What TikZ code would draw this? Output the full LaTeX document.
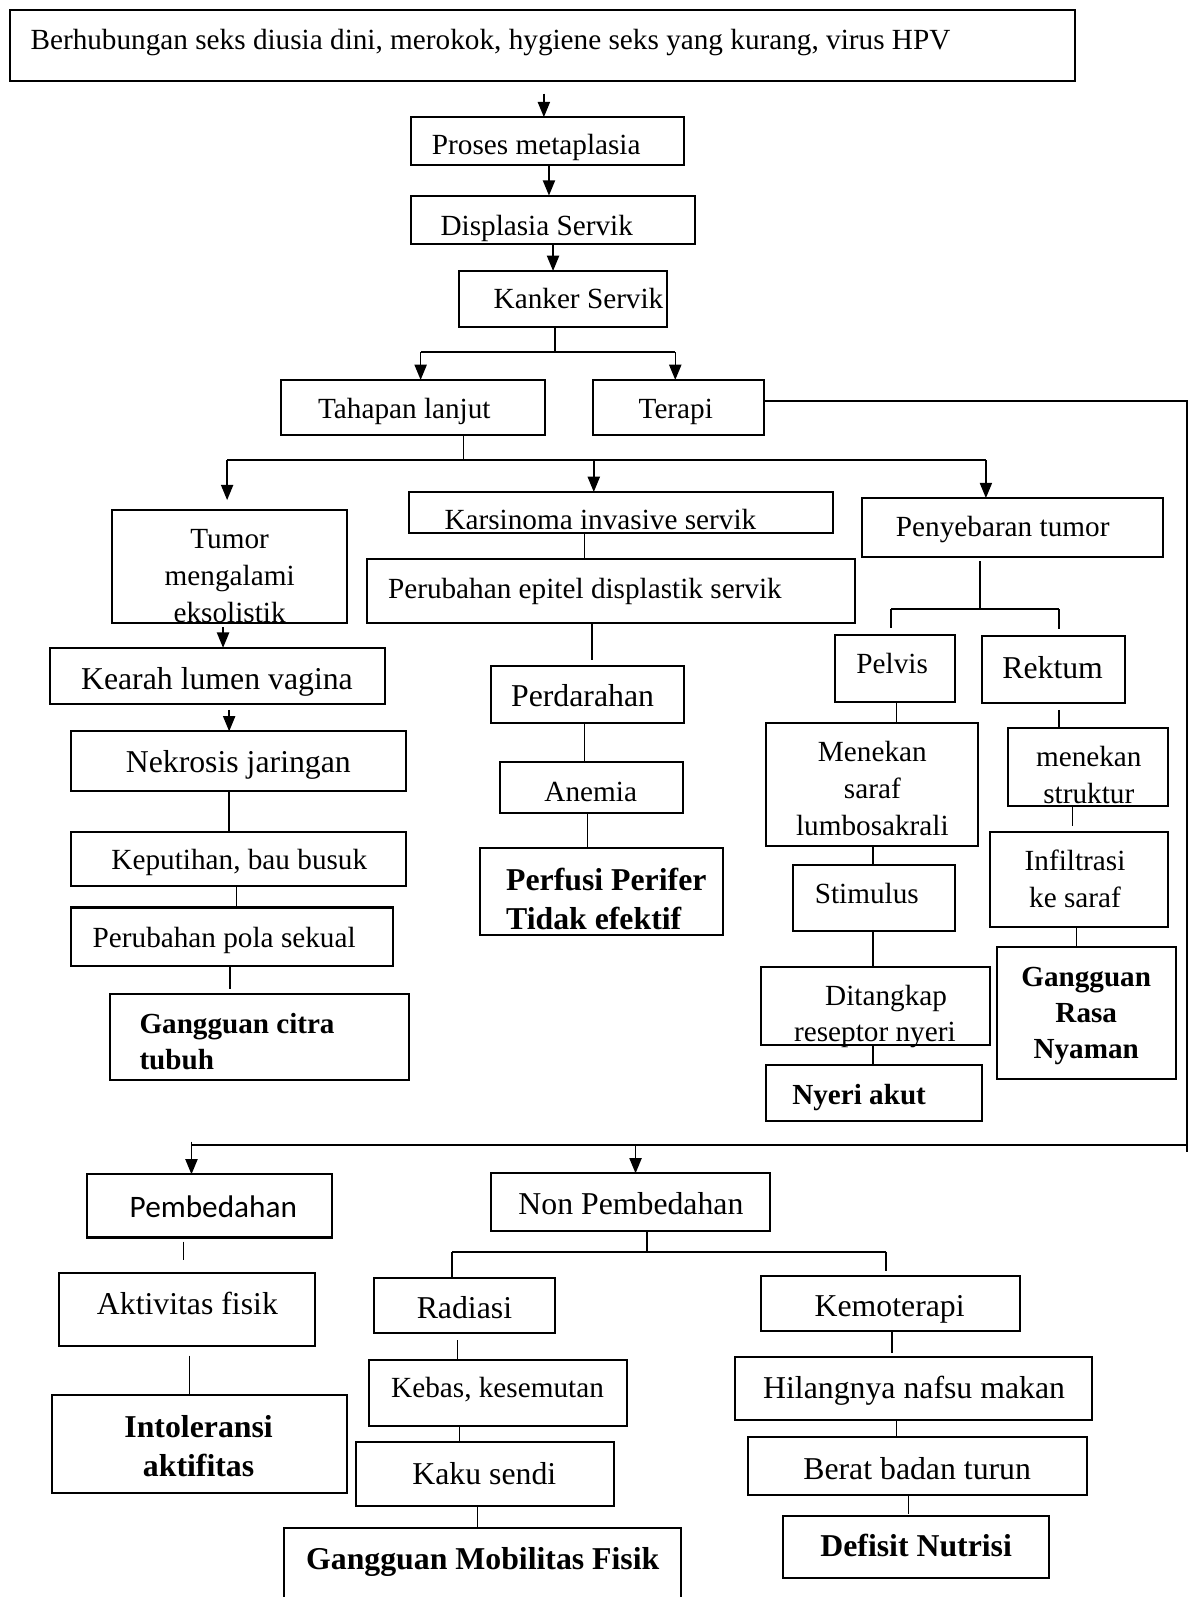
\documentclass[tikz,border=0pt]{standalone}
\usepackage{fontspec}
\setmainfont{Liberation Serif}
\newfontfamily\calibfont{Carlito}
\usetikzlibrary{arrows.meta}
\newcommand\ml[1]{\begin{tabular}[t]{@{}c@{}}#1\end{tabular}}
\newcommand\mll[1]{\begin{tabular}[t]{@{}l@{}}#1\end{tabular}}
\newcommand\bx[5]{\node[box,minimum width={(#4-#2)*0.5pt},minimum height={(#5-#3)*0.5pt}] (#1) at ({(#2+#4)/2},{(#3+#5)/2}) {};}
\begin{document}
\begin{tikzpicture}[x=0.5pt,y=-0.5pt,
  box/.style={draw,line width=1pt,inner sep=0pt,outer sep=0pt},
  ln/.style={line width=0.75pt},
  thk/.style={line width=1pt},
  arr/.style={line width=0.75pt,-{Triangle[width=6pt,length=7.5pt]}},
  txt/.style={inner sep=0pt,outer sep=0pt,anchor=base,yshift=-1pt},
  sm/.style={font=\fontsize{14.35}{18}\selectfont},
  lg/.style={font=\fontsize{15.6}{19}\selectfont},
  bsm/.style={font=\fontsize{14.3}{17.6}\selectfont\bfseries},
  blg/.style={font=\fontsize{15.6}{19.25}\selectfont\bfseries}]
\useasboundingbox (0,0) rectangle (1170,1568);
% boxes
\bx{top}{10}{10}{1055}{80}
\bx{proses}{404}{115}{672}{162}
\bx{displ}{404}{192}{682}{240}
\bx{kanker}{451}{266}{655}{321}
\bx{tahap}{276}{373}{535}{427}
\bx{terapi}{582}{373}{750}{427}
\bx{tumor}{110}{501}{341}{612}
\bx{kearah}{49}{636}{378}{691}
\bx{nekro}{70}{718}{399}{777}
\bx{keput}{70}{817}{399}{870}
\bx{pola}{70}{891}{386}{948}
\bx{citra}{108}{976}{402}{1060}
\bx{karsi}{402}{483}{818}{523}
\bx{epitel}{360}{549}{839}{612}
\bx{perdar}{482}{654}{672}{710}
\bx{anemia}{491}{748}{671}{798}
\bx{perfusi}{471}{833}{710}{918}
\bx{penyeb}{846}{489}{1142}{547}
\bx{pelvis}{820}{623}{938}{689}
\bx{rektum}{964}{624}{1105}{690}
\bx{menekan}{752}{710}{960}{831}
\bx{stim}{779}{849}{938}{914}
\bx{ditang}{747}{949}{972}{1026}
\bx{nyeri}{752}{1046}{964}{1101}
\bx{struk}{990}{715}{1147}{791}
\bx{infil}{972}{817}{1147}{910}
\bx{rasa}{979}{930}{1155}{1059}
\bx{pembed}{85}{1153}{326}{1215}
\bx{aktiv}{58}{1250}{309}{1322}
\bx{intol}{51}{1370}{341}{1466}
\bx{nonpem}{482}{1152}{756}{1209}
\bx{radiasi}{367}{1255}{545}{1309}
\bx{kebas}{362}{1335}{616}{1400}
\bx{kaku}{350}{1416}{603}{1479}
\bx{mobil}{279}{1500}{669}{1590}
\bx{kemo}{747}{1253}{1001}{1307}
\bx{hilang}{722}{1332}{1072}{1394}
\bx{berat}{734}{1411}{1067}{1468}
\bx{defisit}{769}{1488}{1030}{1549}
% texts
\node[txt,sm,anchor=base west] (top-t) at (30,47) {Berhubungan seks diusia dini, merokok, hygiene seks yang kurang, virus HPV};
\node[txt,sm] (proses-t) at (526.5,150) {Proses metaplasia};
\node[txt,sm] (displ-t) at (527,229) {Displasia Servik};
\node[txt,sm] (kanker-t) at (568,301) {Kanker Servik};
\node[txt,sm] (tahap-t) at (397,409) {Tahapan lanjut};
\node[txt,sm] (terapi-t) at (663.5,409) {Terapi};
\node[txt,sm] (tumor-t) at (225.5,537) {\ml{Tumor\\mengalami\\eksolistik}};
\node[txt,lg] (kearah-t) at (213,675) {Kearah lumen vagina};
\node[txt,lg] (nekro-t) at (234,756) {Nekrosis jaringan};
\node[txt,sm] (keput-t) at (235,852) {Keputihan, bau busuk};
\node[txt,sm,anchor=base west] (pola-t) at (91,928) {Perubahan pola sekual};
\node[txt,bsm,anchor=base west] (citra-t) at (137,1013) {\mll{Gangguan citra\\tubuh}};
\node[txt,sm] (karsi-t) at (589.5,518) {Karsinoma invasive servik};
\node[txt,sm,anchor=base west] (epitel-t) at (381,586) {Perubahan epitel displastik servik};
\node[txt,lg] (perdar-t) at (572,692) {Perdarahan};
\node[txt,sm] (anemia-t) at (580,785) {Anemia};
\node[txt,blg,anchor=base west] (perfusi-t) at (497,872) {\mll{Perfusi Perifer\\Tidak efektif}};
\node[txt,sm] (penyeb-t) at (984.5,525) {Penyebaran tumor};
\node[txt,sm] (pelvis-t) at (876,659) {Pelvis};
\node[txt,lg] (rektum-t) at (1033.5,664) {Rektum};
\node[txt,sm] (menekan-t) at (856.5,746) {\ml{Menekan\\saraf\\lumbosakrali}};
\node[txt,sm] (stim-t) at (851,885) {Stimulus};
\node[txt,sm] (ditang-t) at (859,985) {\ml{\hspace{11pt}Ditangkap\\reseptor nyeri}};
\node[txt,bsm,anchor=base west] (nyeri-t) at (778,1082) {Nyeri akut};
\node[txt,sm] (struk-t) at (1069,751) {\ml{menekan\\struktur}};
\node[txt,sm] (infil-t) at (1055.5,853) {\ml{Infiltrasi\\ke saraf}};
\node[txt,bsm] (rasa-t) at (1066.5,967) {\ml{Gangguan\\Rasa\\Nyaman}};
\node[txt,font=\calibfont\fontsize{15.35}{18}\selectfont] (pembed-t) at (209.5,1193) {Pembedahan};
\node[txt,lg] (nonpem-t) at (619.5,1190) {Non Pembedahan};
\node[txt,lg] (aktiv-t) at (184,1289) {Aktivitas fisik};
\node[txt,blg] (intol-t) at (195,1409) {\ml{Intoleransi\\aktifitas}};
\node[txt,lg] (radiasi-t) at (456,1293) {Radiasi};
\node[txt,sm] (kebas-t) at (488.5,1370) {Kebas, kesemutan};
\node[txt,lg] (kaku-t) at (475.5,1456) {Kaku sendi};
\node[txt,blg] (mobil-t) at (474,1539) {Gangguan Mobilitas Fisik};
\node[txt,lg] (kemo-t) at (873.5,1291) {Kemoterapi};
\node[txt,lg] (hilang-t) at (897.5,1371) {Hilangnya nafsu makan};
\node[txt,lg] (berat-t) at (900.5,1451) {Berat badan turun};
\node[txt,blg] (defisit-t) at (899.5,1526) {Defisit Nutrisi};
% connectors: top chain
\coordinate (c1) at (534,92);
\draw[arr] (c1) -- (proses.north -| c1);
\draw[arr] (proses.south -| 539,0) -- (displ.north -| 539,0);
\draw[arr] (displ.south -| 543,0) -- (kanker.north -| 543,0);
\coordinate (s1) at (545,346);
\coordinate (s1l) at (413,346);
\coordinate (s1r) at (663,346);
\draw[ln] (kanker.south -| s1) -- (s1);
\draw[thk] (s1l) -- (s1r);
\draw[arr] (s1l) -- (tahap.north -| s1l);
\draw[arr] (s1r) -- (terapi.north -| s1r);
% terapi loop
\coordinate (tr) at (1165,394);
\coordinate (brr) at (1165,1131);
\coordinate (b2) at (1165,1124);
\coordinate (b1) at (188,1124);
\draw[thk] (terapi.east |- tr) -- (tr) -- (brr);
\draw[thk] (b2) -- (b1);
\draw[arr] ([yshift=1.5pt]b1) -- (pembed.north -| b1);
\draw[arr] (624,1124) -- (nonpem.north -| 624,0);
% tahapan split
\coordinate (s2) at (455,452);
\coordinate (s2l) at (223,452);
\coordinate (s2r) at (968,452);
\coordinate (t1) at (223,491);
\draw[ln] (tahap.south -| s2) -- (s2);
\draw[thk] (s2l) -- (s2r);
\draw[arr] (s2l) -- (t1);
\draw[arr] (583,452) -- (karsi.north -| 583,0);
\draw[arr] (s2r) -- (penyeb.north -| s2r);
% left column
\draw[arr] ([yshift=-2pt]tumor.south -| 219,0) -- (kearah.north -| 219,0);
\draw[arr] ([yshift=-3pt]kearah.south -| 225,0) -- (nekro.north -| 225,0);
\draw[ln] (nekro.south -| 225,0) -- (keput.north -| 225,0);
\draw[ln] (keput.south -| 232,0) -- (pola.north -| 232,0);
\coordinate (c11) at (226,971);
\draw[ln] (pola.south -| c11) -- (c11);
% middle column
\draw[ln] (karsi.south -| 574,0) -- (epitel.north -| 574,0);
\coordinate (c13) at (581,648);
\draw[ln] (epitel.south -| c13) -- (c13);
\draw[ln] (perdar.south -| 574,0) -- (anemia.north -| 574,0);
\draw[ln] (anemia.south -| 577,0) -- (perfusi.north -| 577,0);
% right column
\coordinate (s3) at (962,598);
\coordinate (s3l) at (875,598);
\coordinate (s3r) at (1040,598);
\coordinate (p1) at (875,617);
\coordinate (p2) at (1040,618);
\draw[ln] ([yshift=-2pt]penyeb.south -| s3) -- (s3);
\draw[thk] (s3l) -- (s3r);
\draw[ln] (s3l) -- (p1);
\draw[ln] (s3r) -- (p2);
\draw[ln] (pelvis.south -| 880,0) -- (menekan.north -| 880,0);
\draw[ln] (menekan.south -| 857,0) -- (stim.north -| 857,0);
\draw[ln] (stim.south -| 857,0) -- (ditang.north -| 857,0);
\draw[ln] (ditang.south -| 857,0) -- (nyeri.north -| 857,0);
\coordinate (c21) at (1040,697);
\draw[ln] (c21) -- (struk.north -| c21);
\coordinate (c22) at (1053,811);
\draw[ln] (struk.south -| c22) -- (c22);
\draw[ln] (infil.south -| 1057,0) -- (rasa.north -| 1057,0);
% bottom left
\coordinate (c24a) at (180,1219);
\coordinate (c24b) at (180,1237);
\draw[ln] (c24a) -- (c24b);
\coordinate (c25) at (186,1331);
\draw[ln] (c25) -- (intol.north -| c25);
% non pembedahan split
\coordinate (s4) at (635,1229);
\coordinate (s4l) at (444,1229);
\coordinate (s4r) at (870,1229);
\coordinate (p3) at (870,1248);
\draw[ln] (nonpem.south -| s4) -- (s4);
\draw[thk] (s4l) -- (s4r);
\draw[ln] (s4l) -- (radiasi.north -| s4l);
\draw[ln] (s4r) -- (p3);
\coordinate (c27) at (449,1316);
\draw[ln] (c27) -- (kebas.north -| c27);
\draw[ln] (kebas.south -| 451,0) -- (kaku.north -| 451,0);
\draw[ln] (kaku.south -| 469,0) -- (mobil.north -| 469,0);
\coordinate (c30) at (876,1328);
\draw[ln] (kemo.south -| c30) -- (c30);
\draw[ln] (hilang.south -| 880,0) -- (berat.north -| 880,0);
\coordinate (c32) at (892,1486);
\draw[ln] (berat.south -| c32) -- (c32);
\end{tikzpicture}
\end{document}
